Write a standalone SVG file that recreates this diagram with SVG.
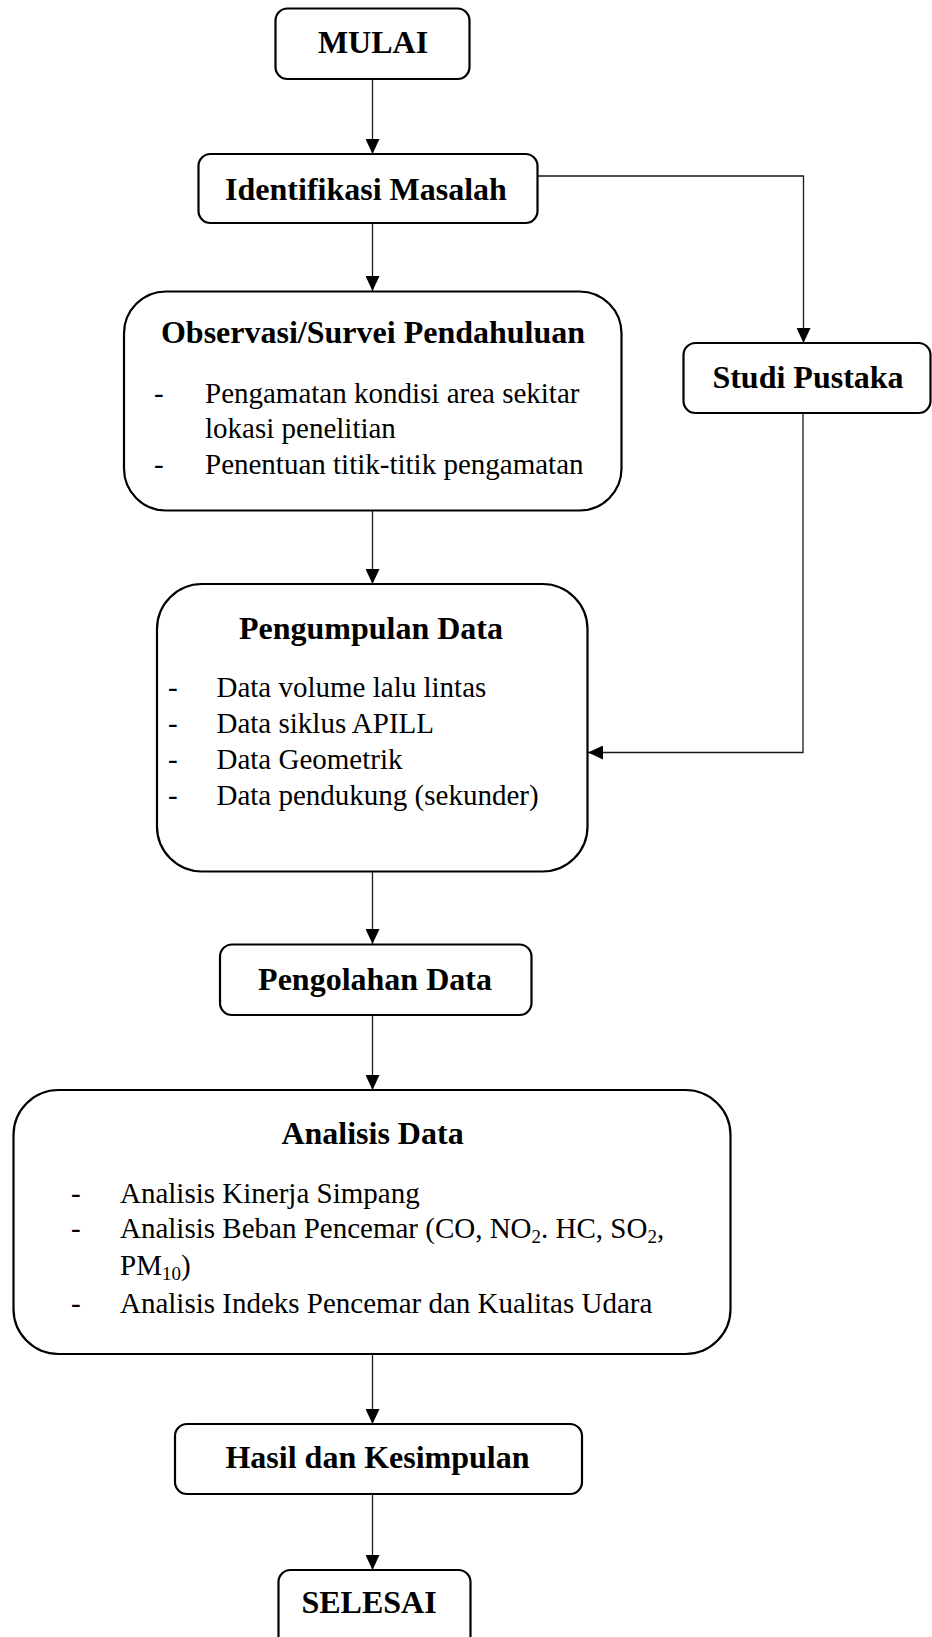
<svg xmlns="http://www.w3.org/2000/svg" width="932" height="1637" viewBox="0 0 932 1637">
<style>
.box{fill:#fff;stroke:#000;stroke-width:2.2}
.t{font-family:"Liberation Serif","Times New Roman",serif;font-size:32px;font-weight:bold;text-anchor:middle;fill:#000}
.b{font-family:"Liberation Serif","Times New Roman",serif;font-size:29px;fill:#000}
.c{fill:none;stroke:#1a1a1a;stroke-width:1.3}
</style>
<defs>
<marker id="ah" viewBox="0 0 15 14" refX="15" refY="7" markerWidth="15" markerHeight="14" markerUnits="userSpaceOnUse" orient="auto">
<path d="M0,0 L15,7 L0,14 Z" fill="#000"/>
</marker>
</defs>
<rect width="932" height="1637" fill="#fff"/>
<g id="connectors">
<line class="c" x1="372.5" y1="79" x2="372.5" y2="154" marker-end="url(#ah)"/>
<line class="c" x1="372.5" y1="223" x2="372.5" y2="291" marker-end="url(#ah)"/>
<line class="c" x1="372.5" y1="511" x2="372.5" y2="584" marker-end="url(#ah)"/>
<line class="c" x1="372.5" y1="872" x2="372.5" y2="944" marker-end="url(#ah)"/>
<line class="c" x1="372.5" y1="1015" x2="372.5" y2="1090" marker-end="url(#ah)"/>
<line class="c" x1="372.5" y1="1354" x2="372.5" y2="1424" marker-end="url(#ah)"/>
<line class="c" x1="372.5" y1="1494" x2="372.5" y2="1570" marker-end="url(#ah)"/>
<polyline class="c" points="537.5,176 803.5,176 803.5,343" marker-end="url(#ah)"/>
<polyline class="c" points="803,413 803,752.5 588,752.5" marker-end="url(#ah)"/>
</g>
<g id="mulai">
<rect class="box" x="275.5" y="8.5" width="194" height="70.5" rx="12"/>
<text class="t" x="373" y="53">MULAI</text>
</g>
<g id="identifikasi">
<rect class="box" x="198.5" y="154" width="339" height="69" rx="12"/>
<text class="t" x="366" y="200">Identifikasi Masalah</text>
</g>
<g id="observasi">
<rect class="box" x="124" y="291.5" width="497.5" height="219" rx="42"/>
<text class="t" x="373" y="343">Observasi/Survei Pendahuluan</text>
<text class="b" x="154" y="403">-</text>
<text class="b" x="205" y="403">Pengamatan kondisi area sekitar</text>
<text class="b" x="205" y="438">lokasi penelitian</text>
<text class="b" x="154" y="474">-</text>
<text class="b" x="205" y="474">Penentuan titik-titik pengamatan</text>
</g>
<g id="studi">
<rect class="box" x="683.5" y="343" width="247" height="70" rx="12"/>
<text class="t" x="808" y="388">Studi Pustaka</text>
</g>
<g id="pengumpulan">
<rect class="box" x="157" y="584" width="430.5" height="287.5" rx="45"/>
<text class="t" x="371" y="639">Pengumpulan Data</text>
<text class="b" x="168" y="697">-</text>
<text class="b" x="216.5" y="697">Data volume lalu lintas</text>
<text class="b" x="168" y="733">-</text>
<text class="b" x="216.5" y="733">Data siklus APILL</text>
<text class="b" x="168" y="769">-</text>
<text class="b" x="216.5" y="769">Data Geometrik</text>
<text class="b" x="168" y="805">-</text>
<text class="b" x="216.5" y="805">Data pendukung (sekunder)</text>
</g>
<g id="pengolahan">
<rect class="box" x="220" y="944.5" width="311.5" height="70.5" rx="12"/>
<text class="t" x="375" y="990">Pengolahan Data</text>
</g>
<g id="analisis">
<rect class="box" x="13.5" y="1090" width="717" height="264" rx="45"/>
<text class="t" x="372.5" y="1144">Analisis Data</text>
<text class="b" x="71" y="1203">-</text>
<text class="b" x="120" y="1203">Analisis Kinerja Simpang</text>
<text class="b" x="71" y="1238">-</text>
<text class="b" x="120" y="1238">Analisis Beban Pencemar (CO, NO<tspan font-size="19" dy="5">2</tspan><tspan dy="-5">. HC, SO</tspan><tspan font-size="19" dy="5">2</tspan><tspan dy="-5">,</tspan></text>
<text class="b" x="120" y="1275">PM<tspan font-size="19" dy="5">10</tspan><tspan dy="-5">)</tspan></text>
<text class="b" x="71" y="1313">-</text>
<text class="b" x="120" y="1313">Analisis Indeks Pencemar dan Kualitas Udara</text>
</g>
<g id="hasil">
<rect class="box" x="175" y="1424" width="407" height="70" rx="12"/>
<text class="t" x="377.5" y="1468">Hasil dan Kesimpulan</text>
</g>
<g id="selesai">
<rect class="box" x="278.5" y="1570" width="192" height="85" rx="12"/>
<text class="t" x="369" y="1613">SELESAI</text>
</g>
</svg>
